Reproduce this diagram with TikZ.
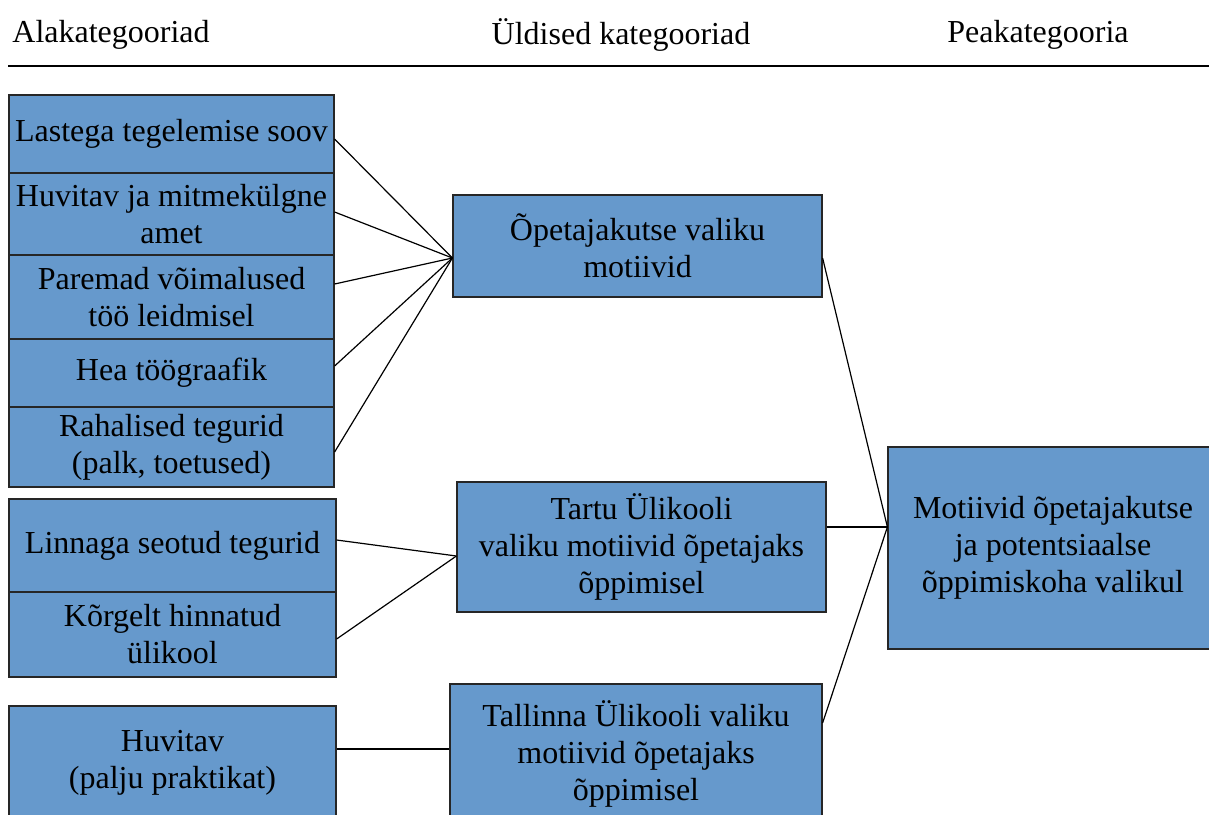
\documentclass[tikz,border=0pt]{standalone}
\usepackage{fontspec}
\setmainfont{Liberation Serif}
\definecolor{boxblue}{RGB}{102,153,204}

\tikzset{
  box/.style = {draw = black!85, fill = boxblue, line width = 0.6pt, inner sep = 0pt, align = center},
  head/.style = {inner sep = 0pt},
  link/.style = {draw, line width = 0.6pt}
}

\begin{document}
\begin{tikzpicture}[x = 0.5pt, y = -0.5pt, font = \fontsize{16}{18.5}\selectfont]
\clip (0, 0) rectangle (1209, 814);

% column heads
\node [head, anchor = west] (hsub) at (12, 35) {Alakategooriad};
\node [head] (hgen) at (621, 35) {Üldised kategooriad};
\node [head] (hmain) at (1038, 35) {Peakategooria};
\path [draw, line width = 0.6pt] (8, 66) -- (1209, 66);

% subcategories
\node [box, minimum width = 162.5pt, minimum height = 39pt] (sub1) at (171.5, 134) {Lastega tegelemise soov};
\node [box, minimum width = 162.5pt, minimum height = 41pt] (sub2) at (171.5, 214) {Huvitav ja mitmekülgne\\amet};
\node [box, minimum width = 162.5pt, minimum height = 42pt] (sub3) at (171.5, 297) {Paremad võimalused\\töö leidmisel};
\node [box, minimum width = 162.5pt, minimum height = 34pt] (sub4) at (171.5, 373) {Hea töögraafik};
\node [box, minimum width = 162.5pt, minimum height = 40pt] (sub5) at (171.5, 447) {Rahalised tegurid\\(palk, toetused)};

\node [box, minimum width = 163.5pt, minimum height = 46.5pt] (sub6) at (172.5, 545.5) {Linnaga seotud tegurid};
\node [box, minimum width = 163.5pt, minimum height = 42.5pt] (sub7) at (172.5, 634.5) {Kõrgelt hinnatud\\ülikool};

\node [box, minimum width = 163.5pt, minimum height = 57pt] (sub8) at (172.5, 763) {Huvitav\\(palju praktikat)};

% general categories
\node [box, minimum width = 184.5pt, minimum height = 51pt] (gen1) at (637.5, 246) {Õpetajakutse valiku\\motiivid};
\node [box, minimum width = 184.5pt, minimum height = 65pt] (gen2) at (641.5, 547) {Tartu Ülikooli\\valiku motiivid õpetajaks\\õppimisel};
\node [box, minimum width = 186pt, minimum height = 70pt] (gen3) at (636, 754) {Tallinna Ülikooli valiku\\motiivid õpetajaks\\õppimisel};

% main category
\node [box, minimum width = 165pt, minimum height = 101pt] (main) at (1053, 548) {Motiivid õpetajakutse\\ja potentsiaalse\\õppimiskoha valikul};

% links
\path [link] ([yshift = -2.5pt] sub1.east) -- ([yshift = -6pt] gen1.west);
\path [link] ([yshift = 1pt] sub2.east) -- ([yshift = -6pt] gen1.west);
\path [link] ([yshift = 6.5pt] sub3.east) -- ([yshift = -6pt] gen1.west);
\path [link] ([yshift = 3.5pt] sub4.east) -- ([yshift = -6pt] gen1.west);
\path [link] ([yshift = -2.5pt] sub5.east) -- ([yshift = -6pt] gen1.west);

\path [link] ([yshift = 2.75pt] sub6.east) -- ([yshift = -4.5pt] gen2.west);
\path [link] ([yshift = -2.25pt] sub7.east) -- ([yshift = -4.5pt] gen2.west);

\path [link] ([yshift = 7pt] sub8.east) -- ([yshift = 2.5pt] gen3.west);

\path [link] ([yshift = -6pt] gen1.east) -- ([yshift = 10.5pt] main.west);
\path [link] ([yshift = 10pt] gen2.east) -- ([yshift = 10.5pt] main.west);
\path [link] ([yshift = 15.5pt] gen3.east) -- ([yshift = 10.5pt] main.west);
\end{tikzpicture}
\end{document}
